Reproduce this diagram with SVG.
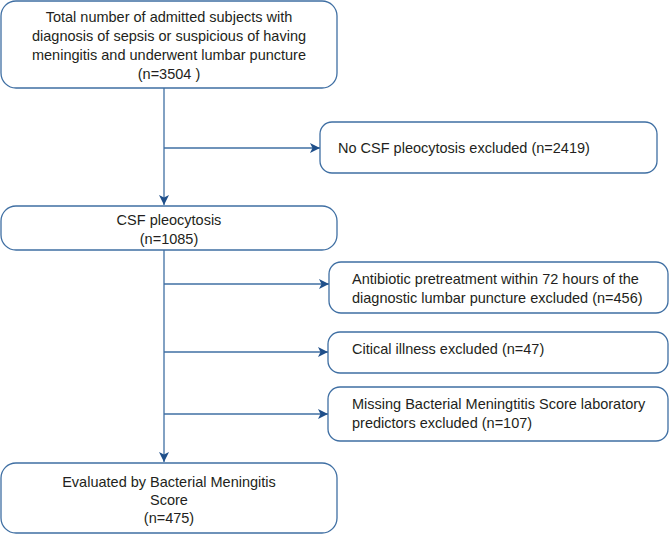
<svg xmlns="http://www.w3.org/2000/svg" width="670" height="534" viewBox="0 0 670 534">
<style>
.box{fill:#ffffff;stroke:#3f6fa3;stroke-width:1.3}
.t{font-family:"Liberation Sans",Arial,Helvetica,sans-serif;font-size:14.5px;fill:#231f20}
.c{text-anchor:middle}
.ln{fill:none;stroke:#3f6fa3;stroke-width:1.3}
</style>
<defs>
<marker id="ah" viewBox="0 0 10 10" refX="10" refY="5" markerWidth="10" markerHeight="10" markerUnits="userSpaceOnUse" orient="auto">
<path d="M0,0 L10,5 L0,10 L2.5,5 Z" fill="#1f4f8a"/>
</marker>
</defs>
<rect width="670" height="534" fill="#ffffff"/>
<g id="connectors">
<line class="ln" x1="164" y1="88" x2="164" y2="205" marker-end="url(#ah)"/>
<line class="ln" x1="164" y1="148" x2="320" y2="148" marker-end="url(#ah)"/>
<line class="ln" x1="164" y1="250" x2="164" y2="462" marker-end="url(#ah)"/>
<line class="ln" x1="164" y1="284" x2="329" y2="284" marker-end="url(#ah)"/>
<line class="ln" x1="164" y1="352" x2="328" y2="352" marker-end="url(#ah)"/>
<line class="ln" x1="164" y1="414" x2="328" y2="414" marker-end="url(#ah)"/>
</g>
<g id="n1">
<rect class="box" x="1" y="1" width="336" height="87" rx="15"/>
<text class="t c" x="169" y="22">Total number of admitted subjects with</text>
<text class="t c" x="169" y="41">diagnosis of sepsis or suspicious of having</text>
<text class="t c" x="169" y="60">meningitis and underwent lumbar puncture</text>
<text class="t c" x="169" y="79">(n=3504 )</text>
</g>
<g id="n2">
<rect class="box" x="320" y="122" width="337" height="51" rx="12"/>
<text class="t" x="338" y="153">No CSF pleocytosis excluded (n=2419)</text>
</g>
<g id="n3">
<rect class="box" x="1" y="206" width="336" height="44" rx="15"/>
<text class="t" x="169" y="225" text-anchor="middle">CSF pleocytosis</text>
<text class="t c" x="169" y="244">(n=1085)</text>
</g>
<g id="n4">
<rect class="box" x="329" y="262" width="339" height="51" rx="12"/>
<text class="t" x="352" y="284">Antibiotic pretreatment within 72 hours of the</text>
<text class="t" x="352" y="303">diagnostic lumbar puncture excluded (n=456)</text>
</g>
<g id="n5">
<rect class="box" x="328" y="332" width="340" height="41" rx="12"/>
<text class="t" x="352" y="354">Citical illness excluded (n=47)</text>
</g>
<g id="n6">
<rect class="box" x="328" y="387" width="340" height="54" rx="12"/>
<text class="t" x="352" y="409">Missing Bacterial Meningtitis Score laboratory</text>
<text class="t" x="352" y="428">predictors excluded (n=107)</text>
</g>
<g id="n7">
<rect class="box" x="1" y="463" width="336" height="70" rx="15"/>
<text class="t c" x="169" y="487">Evaluated by Bacterial Meningitis</text>
<text class="t c" x="169" y="505">Score</text>
<text class="t c" x="169" y="523">(n=475)</text>
</g>
</svg>
